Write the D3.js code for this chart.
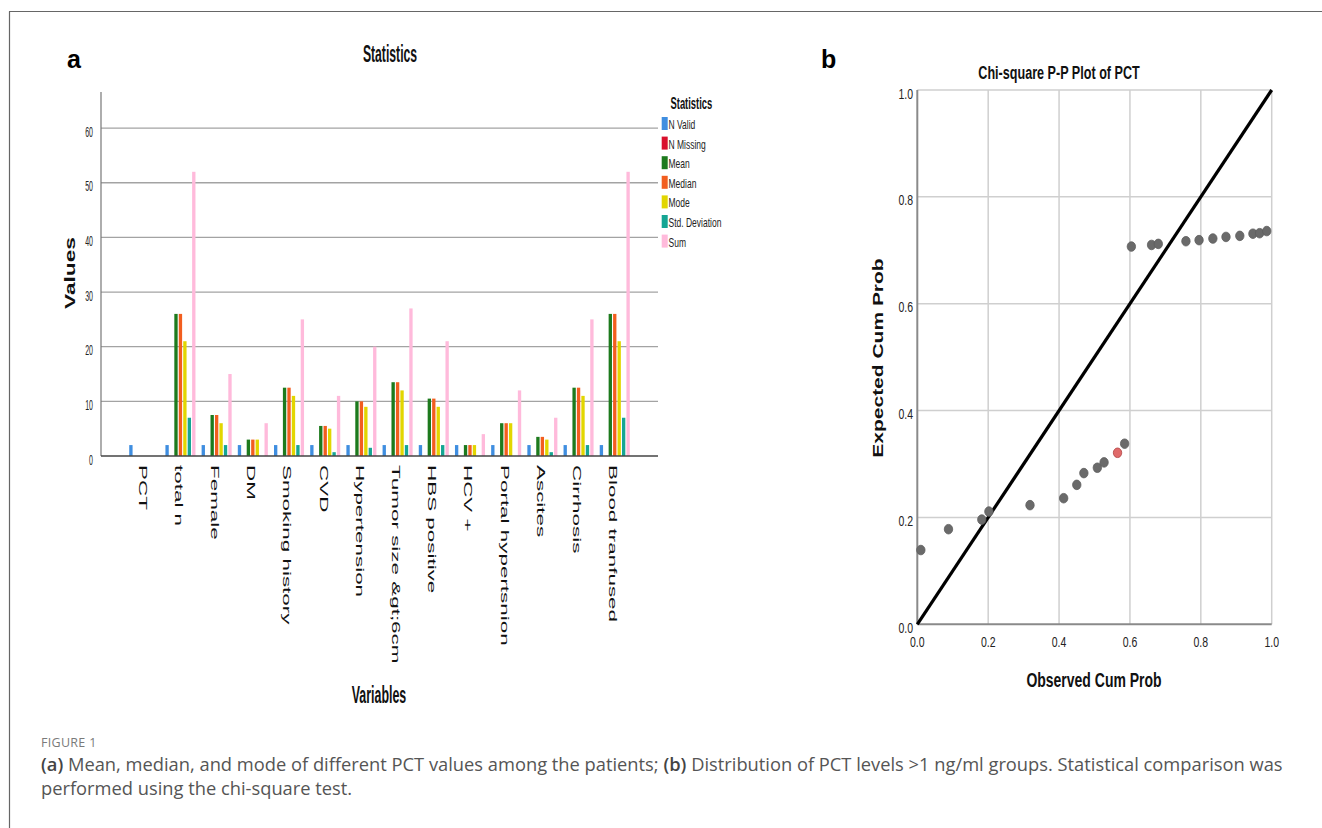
<!DOCTYPE html>
<html>
<head>
<meta charset="utf-8">
<script src="https://cdn.jsdelivr.net/npm/d3@7"></script>
<style>
  body { margin: 0; background: #fff; }
  svg { display: block; font-family: "Liberation Sans", Arial, sans-serif; }
</style>
</head>
<body>
<div id="figure"></div>
<script>
// ---------- panel a : statistics bar chart ----------
const categories = ["PCT", "total n", "Female", "DM", "Smoking history", "CVD", "Hypertension",
    "Tumor size &gt;6cm", "HBS positive", "HCV +", "Portal hypertsnion", "Ascites", "Cirrhosis", "Blood tranfused"];
const statNames = ["N Valid", "N Missing", "Mean", "Median", "Mode", "Std. Deviation", "Sum"];
const statColors = ["#3f8ee0", "#d9102c", "#1d7a1d", "#f25e1f", "#e2d600", "#15a593", "#ffbadb"];

const nValid   = [2, 2, 2, 2, 2, 2, 2, 2, 2, 2, 2, 2, 2, 2];
const nMissing = [0, 0, 0, 0, 0, 0, 0, 0, 0, 0, 0, 0, 0, 0];
const meanVals   = [0, 26, 7.5, 3, 12.5, 5.5, 10, 13.5, 10.5, 2, 6, 3.5, 12.5, 26];
const medianVals = [0, 26, 7.5, 3, 12.5, 5.5, 10, 13.5, 10.5, 2, 6, 3.5, 12.5, 26];
const modeVals   = [0, 21, 6, 3, 11, 5, 9, 12, 9, 2, 6, 3, 11, 21];
const stdVals    = [0, 7, 2, 0, 2, 0.7, 1.5, 2, 2, 0, 0, 0.7, 2, 7];
const sumVals    = [0, 52, 15, 6, 25, 11, 20, 27, 21, 4, 12, 7, 25, 52];
const valueTicks = [0, 10, 20, 30, 40, 50, 60];

// ---------- panel b : chi-square P-P plot ----------
const observedCum = [0.010, 0.088, 0.182, 0.202, 0.318, 0.413, 0.450, 0.470, 0.508, 0.527, 0.565, 0.585,
    0.604, 0.661, 0.680, 0.758, 0.795, 0.834, 0.871, 0.910, 0.947, 0.966, 0.986];
const expectedCum = [0.139, 0.178, 0.196, 0.211, 0.223, 0.236, 0.261, 0.283, 0.293, 0.303, 0.321, 0.338,
    0.707, 0.710, 0.712, 0.717, 0.719, 0.722, 0.725, 0.727, 0.731, 0.732, 0.736];
const highlightIndex = 10;
const probTicks = [0, 0.2, 0.4, 0.6, 0.8, 1.0];

const W = 1322, H = 828;
const svg = d3.select("#figure").append("svg")
    .attr("width", W)
    .attr("height", H);

// text that is squeezed / stretched like the pasted SPSS pictures
function stretchText(g, x, y, str, o) {
    return g.append("text")
        .attr("transform", `translate(${x},${y}) rotate(${o.rotate || 0}) scale(${o.sx || 1},${o.sy || 1})`)
        .attr("text-anchor", o.anchor || "start")
        .attr("font-size", o.size)
        .attr("font-weight", o.weight || "normal")
        .attr("fill", o.fill || "#111")
        .attr("dy", o.dy || 0)
        .text(str);
}

// figure frame
svg.append("line").attr("x1", 9).attr("x2", W).attr("y1", 11.5).attr("y2", 11.5)
    .attr("stroke", "#666").attr("stroke-width", 1.2);
svg.append("line").attr("x1", 9.5).attr("x2", 9.5).attr("y1", 11.5).attr("y2", H)
    .attr("stroke", "#666").attr("stroke-width", 1.2);

// panel letters
svg.append("text").attr("x", 67).attr("y", 68).attr("font-size", 25).attr("font-weight", "bold").text("a");
svg.append("text").attr("x", 821).attr("y", 68).attr("font-size", 25).attr("font-weight", "bold").text("b");

// ================= panel a =================
const barData = categories.map((c, i) => ({
    category: c,
    values: [nValid, nMissing, meanVals, medianVals, modeVals, stdVals, sumVals]
        .map((s, j) => ({stat: statNames[j], value: s[i]}))
}));

const a = svg.append("g").attr("class", "panel-a");
const SA = 2.0; // vertical stretch of panel a

const x0 = d3.scaleBand().domain(categories).range([101, 658]).paddingInner(0.17).paddingOuter(0.78);
const x1 = d3.scaleBand().domain(statNames).range([0, x0.bandwidth()]).paddingInner(0.25);
const yA = d3.scaleLinear().domain([0, 66.6]).range([456, 92]);
const colorA = d3.scaleOrdinal().domain(statNames).range(statColors);

// gridlines
a.append("g").selectAll("line")
    .data(valueTicks.filter(d => d > 0))
    .join("line")
    .attr("x1", 101).attr("x2", 658)
    .attr("y1", d => yA(d)).attr("y2", d => yA(d))
    .attr("stroke", "#a3a3a3").attr("stroke-width", 1.3);

// bars
const groups = a.append("g").selectAll("g")
    .data(barData)
    .join("g")
    .attr("transform", d => `translate(${x0(d.category)},0)`);

groups.selectAll("rect")
    .data(d => d.values.filter(v => v.value > 0))
    .join("rect")
    .attr("x", d => x1(d.stat))
    .attr("y", d => yA(d.value))
    .attr("width", x1.bandwidth())
    .attr("height", d => yA(0) - yA(d.value))
    .attr("fill", d => colorA(d.stat));

// axes lines
a.append("line").attr("x1", 101).attr("x2", 101).attr("y1", yA(66.6)).attr("y2", yA(0))
    .attr("stroke", "#777").attr("stroke-width", 1.2);
a.append("line").attr("x1", 101).attr("x2", 658).attr("y1", yA(0)).attr("y2", yA(0))
    .attr("stroke", "#444").attr("stroke-width", 1.6);

// y tick labels
valueTicks.forEach(t => {
    stretchText(a, 93, yA(t) + 8.5, t, {size: 7, sy: 2.2, anchor: "end", fill: "#222"});
});

// x tick labels, rotated
categories.forEach(c => {
    stretchText(a, x0(c) + x0.bandwidth() / 2 - 1.5, 465, c,
        {size: 11.5, rotate: 90, sx: 1.95, dy: "0.35em", fill: "#111"});
});

// titles
stretchText(a, 390, 62, "Statistics", {size: 12.2, sy: SA, anchor: "middle", weight: "bold"});
stretchText(a, 379, 703, "Variables", {size: 12.4, sy: SA, anchor: "middle", weight: "bold"});
stretchText(a, 75, 273, "Values", {size: 14, rotate: -90, sx: 1.62, anchor: "middle", weight: "bold"});

// legend
const legend = a.append("g").attr("class", "legend");
stretchText(legend, 670.5, 109, "Statistics", {size: 9.4, sy: 1.85, weight: "bold"});
statNames.forEach((s, i) => {
    const yy = 117 + i * 19.6;
    legend.append("rect")
        .attr("x", 661.7).attr("y", yy)
        .attr("width", 6).attr("height", 13)
        .attr("fill", colorA(s));
    stretchText(legend, 668.5, yy + 12, s, {size: 8.5, sy: 1.55, fill: "#222"});
});

// ================= panel b =================
const b = svg.append("g").attr("class", "panel-b");
const SB = 1.45; // vertical stretch of panel b

const xB = d3.scaleLinear().domain([0, 1]).range([917.3, 1271.7]);
const yB = d3.scaleLinear().domain([0, 1]).range([624.3, 90]);

// grid
b.append("g").selectAll("line")
    .data(probTicks.filter(d => d > 0))
    .join("line")
    .attr("x1", d => xB(d)).attr("x2", d => xB(d))
    .attr("y1", yB(0)).attr("y2", yB(1))
    .attr("stroke", "#cfcfcf").attr("stroke-width", 1.5);
b.append("g").selectAll("line")
    .data(probTicks.filter(d => d > 0))
    .join("line")
    .attr("x1", xB(0)).attr("x2", xB(1))
    .attr("y1", d => yB(d)).attr("y2", d => yB(d))
    .attr("stroke", "#cfcfcf").attr("stroke-width", 1.5);

// axes
b.append("line").attr("x1", xB(0)).attr("x2", xB(0)).attr("y1", yB(0)).attr("y2", yB(1))
    .attr("stroke", "#8a8a8a").attr("stroke-width", 2);
b.append("line").attr("x1", xB(0)).attr("x2", xB(1)).attr("y1", yB(0)).attr("y2", yB(0))
    .attr("stroke", "#8a8a8a").attr("stroke-width", 2);

// reference diagonal
const line = d3.line().x(d => xB(d[0])).y(d => yB(d[1]));
b.append("path")
    .attr("d", line([[0, 0], [1, 1]]))
    .attr("fill", "none")
    .attr("stroke", "#000")
    .attr("stroke-width", 3.2);

// points
b.append("g").selectAll("ellipse")
    .data(observedCum.map((o, i) => ({obs: o, exp: expectedCum[i], i: i})))
    .join("ellipse")
    .attr("cx", d => xB(d.obs))
    .attr("cy", d => yB(d.exp))
    .attr("rx", 4.2)
    .attr("ry", 4.8)
    .attr("fill", d => d.i === highlightIndex ? "#e06a6a" : "#6a6a6a")
    .attr("stroke", d => d.i === highlightIndex ? "#b04040" : "#5e5e5e")
    .attr("stroke-width", 0.8);

// tick labels
probTicks.forEach(t => {
    stretchText(b, 913, yB(t) + 8.5, t.toFixed(1), {size: 10.5, sy: 1.4, anchor: "end", fill: "#222"});
    stretchText(b, xB(t), 646.5, t.toFixed(1), {size: 10.5, sy: 1.4, anchor: "middle", fill: "#222"});
});

// titles
stretchText(b, 978.3, 79, "Chi-square P-P Plot of PCT", {size: 12.6, sy: SB, weight: "bold"});
stretchText(b, 1094, 687, "Observed Cum Prob", {size: 14, sy: SB, anchor: "middle", weight: "bold"});
stretchText(b, 883, 358, "Expected Cum Prob", {size: 14, rotate: -90, sx: 1.5, anchor: "middle", weight: "bold"});

// ================= caption =================
const cap = svg.append("g").attr("class", "caption")
    .attr("font-family", "'Open Sans', 'Noto Sans', sans-serif");

cap.append("text")
    .attr("x", 41).attr("y", 747)
    .attr("font-size", 12.5)
    .attr("fill", "#7a7a7a")
    .attr("letter-spacing", 0.3)
    .text("FIGURE 1");

const line1 = cap.append("text").attr("x", 41).attr("y", 771).attr("font-size", 15).attr("fill", "#555");
line1.append("tspan").attr("font-weight", 600).attr("fill", "#444").text("(a)");
line1.append("tspan").text(" Mean, median, and mode of different PCT values among the patients; ");
line1.append("tspan").attr("font-weight", 600).attr("fill", "#444").text("(b)");
line1.append("tspan").text(" Distribution of PCT levels >1 ng/ml groups. Statistical comparison was");

const line2 = cap.append("text").attr("x", 41).attr("y", 795).attr("font-size", 15).attr("fill", "#555")
    .text("performed using the chi-square test.");

// fit the first caption line to its width in the figure
const len = line1.node().getComputedTextLength();
const fs = 15 * 1243 / len;
line1.attr("font-size", fs);
line2.attr("font-size", fs);
</script>
</body>
</html>
